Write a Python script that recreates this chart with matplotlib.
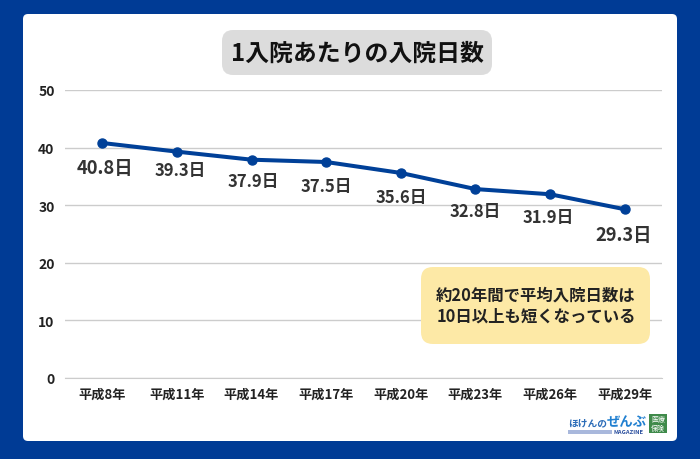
import matplotlib
matplotlib.use('Agg')
import matplotlib.pyplot as plt
from matplotlib.patches import FancyBboxPatch, Rectangle

plt.rcParams['font.family'] = ['Noto Sans CJK JP', 'DejaVu Sans']

# Data
years = ['平成8年', '平成11年', '平成14年', '平成17年', '平成20年', '平成23年', '平成26年', '平成29年']
days = [40.8, 39.3, 37.9, 37.5, 35.6, 32.8, 31.9, 29.3]
day_labels = ['40.8日', '39.3日', '37.9日', '37.5日', '35.6日', '32.8日', '31.9日', '29.3日']
yticks = [0, 10, 20, 30, 40, 50]

# Label placement in pixels from each point
label_dx = [3, 3, 2, 0, 0, 0, -2, -1]
label_dy = [-25, -18, -21, -24, -24, -22, -23, -25]
label_size = [13.2, 12, 12, 12, 12, 12, 12, 13.2]

W, H = 700, 460
BLUE = '#003b95'
LINE = '#004098'

fig = plt.figure(figsize=(W / 100, H / 100), dpi=100, facecolor=BLUE)

# Everything decorative is placed in pixel coords on a full-figure axes
bg = fig.add_axes([0, 0, 1, 1], zorder=0)
bg.set_xlim(0, W)
bg.set_ylim(H, 0)
bg.axis('off')


def round_box(axes, x0, y0, x1, y1, r, color):
    axes.add_patch(FancyBboxPatch((x0 + r, y0 + r), x1 - x0 - 2 * r, y1 - y0 - 2 * r,
                                  boxstyle=f'round,pad={r},rounding_size={r}',
                                  fc=color, ec='none'))


round_box(bg, 23, 15, 677, 442, 5, 'white')
round_box(bg, 222, 31, 492, 76, 11, '#dcdcdc')
bg.text(357, 54, '1入院あたりの入院日数', fontsize=17.2, fontweight='bold',
        ha='center', va='center', color='#111111')

# Chart
ax = fig.add_axes([65 / W, 1 - 379 / H, (662 - 65) / W, (379 - 91) / H], zorder=1)
ax.patch.set_alpha(0)
x = range(len(years))
ax.plot(x, days, color=LINE, lw=2.9, marker='o', ms=6.5, clip_on=False, zorder=3)
ax.set_xlim(-0.5, len(years) - 0.5)
ax.set_ylim(0, 50)
ax.set_yticks(yticks)
ax.set_xticks(list(x))
ax.set_xticklabels(years, fontsize=9.5, fontweight='bold', color='#222222')
ax.set_yticklabels([str(v) for v in yticks], fontsize=10, fontweight='bold', color='#222222')
ax.tick_params(length=0)
ax.tick_params(axis='y', pad=7.5)
ax.tick_params(axis='x', pad=6.5)
ax.grid(axis='y', color='#cccccc', lw=1)
ax.set_axisbelow(True)
for name in ['top', 'right', 'left']:
    ax.spines[name].set_visible(False)
ax.spines['bottom'].set_color('#cccccc')

for i, label in enumerate(day_labels):
    ax.annotate(label, (i, days[i]), xytext=(label_dx[i] * 0.72, label_dy[i] * 0.72),
                textcoords='offset points', ha='center', va='center',
                fontsize=label_size[i], fontweight='bold', color='#333333')

# Note box
bg2 = fig.add_axes([0, 0, 1, 1], zorder=2)
bg2.set_xlim(0, W)
bg2.set_ylim(H, 0)
bg2.axis('off')
round_box(bg2, 421, 268, 650, 345, 12, '#fde9a6')
bg2.text(536, 296, '約20年間で平均入院日数は', fontsize=11.8, fontweight='bold',
         ha='center', va='center', color='#222222')
bg2.text(536, 317, '10日以上も短くなっている', fontsize=11.8, fontweight='bold',
         ha='center', va='center', color='#222222')

# Logo
bg2.text(568, 423, 'ほけんの', fontsize=7, fontweight='bold', ha='left', va='center', color='#2b6cb8')
bg2.text(607, 422, 'ぜんぶ', fontsize=9.6, fontweight='bold', ha='left', va='center', color='#1f7fd0')
bg2.add_patch(Rectangle((568, 431), 44, 3.5, fc='#a9b8dc', ec='none'))
bg2.text(613, 433, 'MAGAZINE', fontsize=4.2, fontweight='bold', ha='left', va='center', color='#2b4f9e')
bg2.add_patch(Rectangle((649, 415), 18, 19, fc='#3f8a4a', ec='none'))
bg2.text(658, 420, '医療', fontsize=5, ha='center', va='center', color='white')
bg2.text(658, 429, '保険', fontsize=5, ha='center', va='center', color='white')

fig.savefig('out.png', dpi=100, facecolor=fig.get_facecolor())
